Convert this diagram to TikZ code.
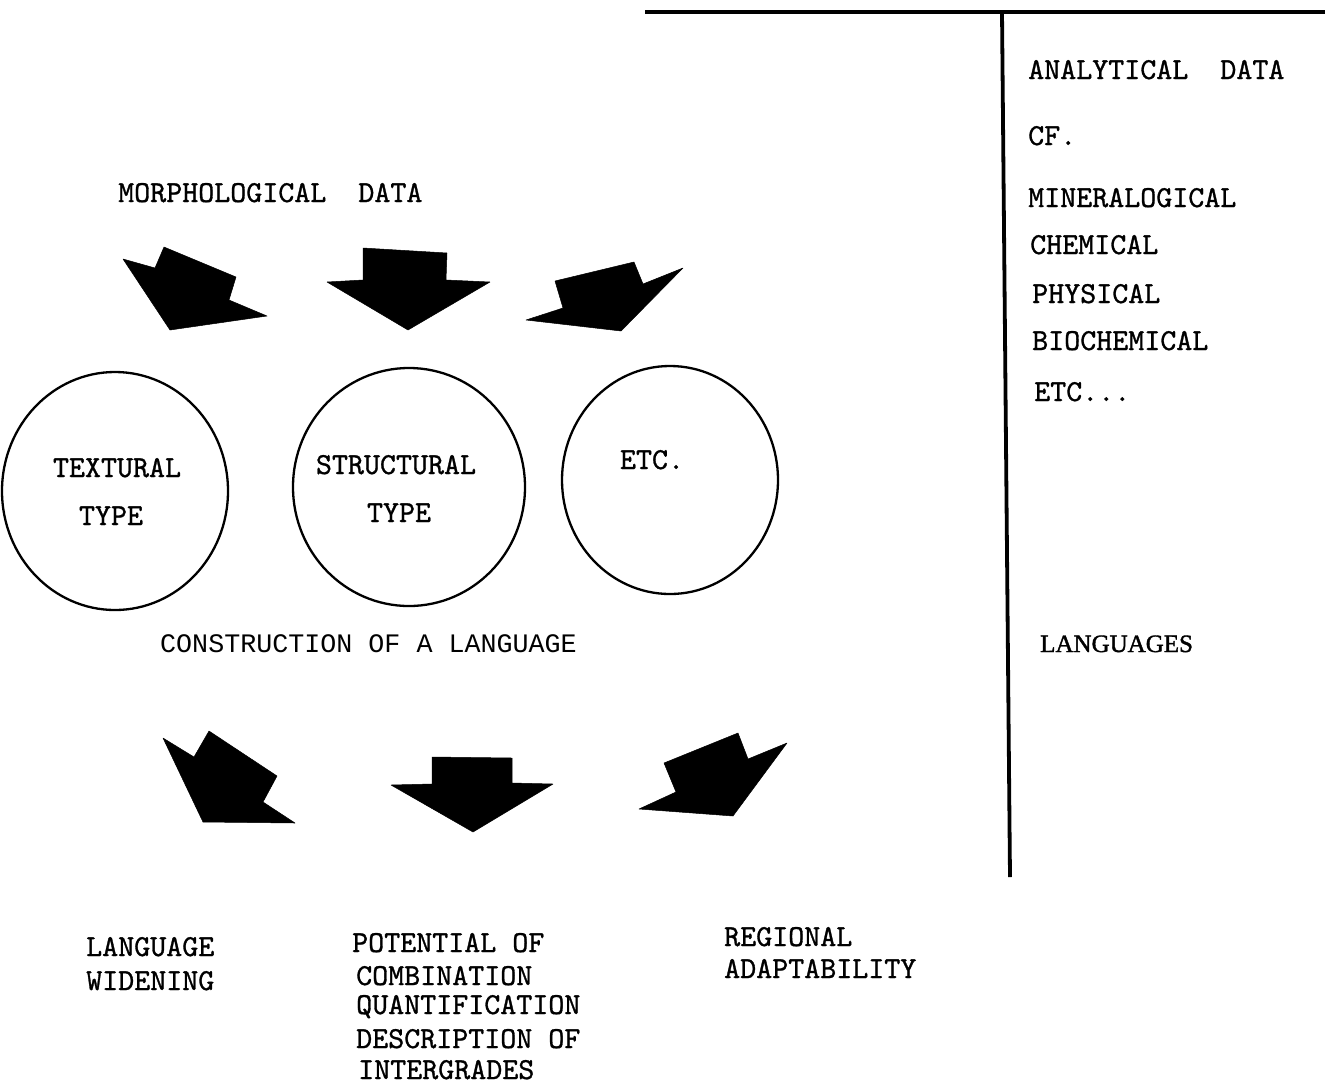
\documentclass[tikz,border=0pt]{standalone}
\usepackage{fontspec}
\usetikzlibrary{shapes.geometric}
\newfontfamily\tw[FakeBold=1]{lmmono10-regular.otf}
\newfontfamily\ocr{Liberation Mono}
\newfontfamily\srf[FakeBold=1.5]{Liberation Serif}
\begin{document}
\begin{tikzpicture}[x=1pt,y=-1pt,
  txt/.style={font=\tw\fontsize{30.5}{36}\selectfont, inner sep=0pt, anchor=base west},
  ctxt/.style={font=\tw\fontsize{30.5}{36}\selectfont, inner sep=0pt, anchor=base},
  ocrtxt/.style={font=\ocr\fontsize{26.7}{30}\selectfont, inner sep=0pt, anchor=base west},
  srftxt/.style={font=\srf\fontsize{25}{28}\selectfont, inner sep=0pt, anchor=base west},
  bubble/.style={draw, line width=2.3pt, inner sep=0pt, ellipse},
  blockarrow/.style={fill=black, draw=black, line width=0.5pt, line join=round},
  rule/.style={line width=3.2pt}]
\useasboundingbox (0,0) rectangle (1325,1085);

% frame lines
\coordinate (hl) at (645,12);
\coordinate (hr) at (1325,12);
\coordinate (vt) at (1002,12);
\coordinate (vb) at (1010,877);
\draw[rule] (hl) -- (hr);
\draw[rule, line width=3.8pt] (vt) -- (vb);

% top text
\node[txt] (morph) at (118,202) {MORPHOLOGICAL\ \ DATA};

% top arrows
\fill[blockarrow] (123,259) -- (155,268) -- (164,247) -- (236,277) -- (229,300) -- (267,316) -- (170,330) -- cycle;
\fill[blockarrow] (363,248) -- (447,253) -- (446,280) -- (490,282) -- (408,330) -- (327,282) -- (363,280) -- cycle;
\fill[blockarrow] (526,320) -- (563,308) -- (555,281) -- (634,262) -- (643,284) -- (683,268) -- (621,331) -- cycle;

% circles
\node[bubble, minimum width=226pt, minimum height=238pt] (c1) at (115,491) {};
\node[bubble, minimum width=232pt, minimum height=238pt] (c2) at (409,487) {};
\node[bubble, minimum width=216pt, minimum height=228pt] (c3) at (670,480) {};

\node[ctxt] (t1a) at (117,477) {TEXTURAL};
\node[ctxt] (t1b) at (111,525) {TYPE};
\node[ctxt] (t2a) at (396,474) {STRUCTURAL};
\node[ctxt] (t2b) at (399,522) {TYPE};
\node[ctxt] (t3a) at (652,469) {ETC.};

% construction
\node[ocrtxt] (cons) at (160,652) {CONSTRUCTION OF A LANGUAGE};

% bottom arrows
\fill[blockarrow] (163,738) -- (194,757) -- (209,731) -- (277,776) -- (263,802) -- (295,823) -- (203,822) -- cycle;
\fill[blockarrow] (432,757) -- (512,758) -- (512,783) -- (553,784) -- (473,832) -- (391,785) -- (432,784) -- cycle;
\fill[blockarrow] (639,809) -- (676,792) -- (664,763) -- (738,733) -- (748,759) -- (787,743) -- (733,816) -- cycle;

% bottom texts
\node[txt] (lw1) at (86,956) {LANGUAGE};
\node[txt] (lw2) at (86,990) {WIDENING};
\node[txt] (p1) at (352,952) {POTENTIAL OF};
\node[txt] (p2) at (356,985) {COMBINATION};
\node[txt] (p3) at (356,1014) {QUANTIFICATION};
\node[txt] (p4) at (356,1048) {DESCRIPTION OF};
\node[txt] (p5) at (358,1079) {INTERGRADES};
\node[txt] (r1) at (724,946) {REGIONAL};
\node[txt] (r2) at (724,978) {ADAPTABILITY};

% right column
\node[txt] (an) at (1028,79) {ANALYTICAL\ \ DATA};
\node[txt] (cf) at (1028,145) {CF.};
\node[txt] (mi) at (1028,207) {MINERALOGICAL};
\node[txt] (ch) at (1030,254) {CHEMICAL};
\node[txt] (ph) at (1032,303) {PHYSICAL};
\node[txt] (bi) at (1032,350) {BIOCHEMICAL};
\node[txt] (et) at (1034,401) {ETC...};
\node[srftxt] (lg) at (1040,652) {LANGUAGES};
\end{tikzpicture}
\end{document}
